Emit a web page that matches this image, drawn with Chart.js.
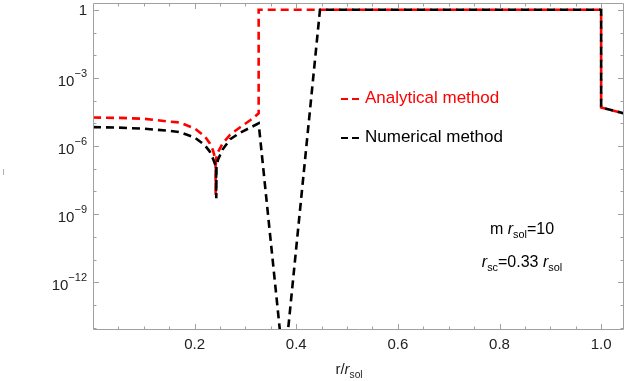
<!DOCTYPE html>
<html><head><meta charset="utf-8">
<script src="https://cdn.jsdelivr.net/npm/chart.js@4/dist/chart.umd.min.js"></script>
<style>html,body{margin:0;padding:0;background:#fff}#wrap{width:629px;height:381px}</style>
</head><body><div id="wrap"><canvas id="c" width="629" height="381"></canvas></div>
<script>
// ---- data ----
const analyticalX = [0, 0.05, 0.10, 0.15, 0.17, 0.20, 0.22, 0.23, 0.236, 0.2412, 0.2414, 0.2418, 0.245, 0.255, 0.27, 0.289, 0.31, 0.326, 0.326, 1.0, 1.0, 1.045];
const analyticalY = [1.8e-5, 1.74e-5, 1.6e-5, 1.2e-5, 1.1e-5, 6.0e-6, 2.7e-6, 1.3e-6, 6.6e-7, 2.5e-7, 7e-9, 2.5e-7, 5e-7, 1.3e-6, 3.2e-6, 6.6e-6, 1.4e-5, 2.75e-5, 1, 1, 5e-5, 2.75e-5];
const numericalX = [0, 0.05, 0.10, 0.15, 0.17, 0.20, 0.22, 0.23, 0.237, 0.2422, 0.2426, 0.2430, 0.246, 0.255, 0.27, 0.289, 0.31, 0.326, 0.3759, 0.4467, 1.0, 1.0, 1.045];
const numericalY = [6.8e-6, 6.5e-6, 5.8e-6, 4.7e-6, 4.1e-6, 2.4e-6, 1.1e-6, 5.6e-7, 2.5e-7, 1.2e-7, 5e-9, 1.2e-7, 2.5e-7, 7e-7, 2e-6, 3.8e-6, 6.6e-6, 1e-5, 1.3e-16, 1, 1, 5e-5, 2.75e-5];
const seriesLabels = ['Analytical method', 'Numerical method'];
const seriesColors = ['#ff0000', '#000000'];
const xTickValues = [0.2, 0.4, 0.6, 0.8, 1.0];
const xTickLabels = ['0.2', '0.4', '0.6', '0.8', '1.0'];
const yTickExponents = [0, -3, -6, -9, -12];
const xRange = [0, 1.045];
const yRange = [Math.pow(10, -14.1), Math.pow(10, 0.3)];

const FONT = '"Liberation Sans", Arial, sans-serif';
const toPts = (xs, ys) => xs.map((x, i) => ({x: x, y: ys[i]}));

function richWidth(ctx, segs, size) {
  let w = 0;
  for (const s of segs) {
    const fs = s.sub ? size * 0.68 : size;
    ctx.font = (s.it ? 'italic ' : '') + fs + 'px ' + FONT;
    w += ctx.measureText(s.t).width;
  }
  return w;
}
function drawRich(ctx, segs, x, y, size, color, align) {
  const w = richWidth(ctx, segs, size);
  let cx = align === 'center' ? x - w / 2 : x;
  ctx.fillStyle = color;
  ctx.textAlign = 'left';
  ctx.textBaseline = 'alphabetic';
  for (const s of segs) {
    const fs = s.sub ? size * 0.68 : size;
    ctx.font = (s.it ? 'italic ' : '') + fs + 'px ' + FONT;
    ctx.fillText(s.t, cx, s.sub ? y + size * 0.25 : y);
    cx += ctx.measureText(s.t).width;
  }
}

const framePlugin = {
  id: 'frame',
  afterDraw(chart) {
    const ctx = chart.ctx;
    const {left: L, right: R, top: T, bottom: B} = chart.chartArea;
    const xs = chart.scales.x, ys = chart.scales.y;
    ctx.save();
    // frame
    ctx.strokeStyle = '#a0a0a0';
    ctx.lineWidth = 1;
    ctx.beginPath();
    ctx.rect(Math.round(L) + 0.5, Math.round(T) + 0.5, Math.round(R - L) - 1, Math.round(B - T) - 1);
    ctx.stroke();
    // x ticks (inside, bottom and top)
    ctx.beginPath();
    for (let k = 1; k * 0.05 <= xRange[1]; k++) {
      const v = k * 0.05;
      const px = Math.round(xs.getPixelForValue(v)) + 0.5;
      const len = (k % 4 === 0) ? 6 : 3.5;
      ctx.moveTo(px, B); ctx.lineTo(px, B - len);
      ctx.moveTo(px, T); ctx.lineTo(px, T + len);
    }
    // y ticks (every decade)
    for (let e = -14; e <= 0; e++) {
      const py = Math.round(ys.getPixelForValue(Math.pow(10, e))) + 0.5;
      const len = (e % 3 === 0) ? 6 : 3.5;
      ctx.moveTo(L, py); ctx.lineTo(L + len, py);
      ctx.moveTo(R, py); ctx.lineTo(R - len, py);
    }
    ctx.stroke();
    // x tick labels
    ctx.fillStyle = '#222';
    ctx.font = '15px ' + FONT;
    ctx.textAlign = 'center';
    ctx.textBaseline = 'middle';
    xTickValues.forEach((v, i) => {
      ctx.fillText(xTickLabels[i], xs.getPixelForValue(v), B + 15);
    });
    // y tick labels
    yTickExponents.forEach(e => {
      const py = ys.getPixelForValue(Math.pow(10, e));
      const rx = L - 6;
      ctx.textBaseline = 'alphabetic';
      ctx.textAlign = 'right';
      if (e === 0) {
        ctx.font = '15px ' + FONT;
        ctx.fillText('1', rx, py + 5.5);
      } else {
        const sup = '\u2212' + Math.abs(e);
        ctx.font = '11px ' + FONT;
        const sw = ctx.measureText(sup).width;
        ctx.fillText(sup, rx, py - 1);
        ctx.font = '15px ' + FONT;
        ctx.fillText('10', rx - sw, py + 8);
      }
    });
    // x axis title
    drawRich(ctx, [{t: 'r/'}, {t: 'r', it: true}, {t: 'sol', sub: true}], 349, 374, 15, '#222', 'center');
    // tiny y axis mark
    ctx.fillStyle = '#b0b0b0';
    ctx.fillRect(3, 169, 1, 6);
    // legend
    const legY = [98, 137];
    seriesLabels.forEach((lab, i) => {
      ctx.strokeStyle = seriesColors[i];
      ctx.lineWidth = 2;
      ctx.beginPath();
      ctx.moveTo(341, legY[i] + 1); ctx.lineTo(348, legY[i] + 1);
      ctx.moveTo(352, legY[i] + 1); ctx.lineTo(359, legY[i] + 1);
      ctx.stroke();
      ctx.fillStyle = seriesColors[i];
      ctx.font = '17px ' + FONT;
      ctx.textAlign = 'left';
      ctx.textBaseline = 'middle';
      ctx.fillText(lab, 365, legY[i]);
    });
    // annotations
    drawRich(ctx, [{t: 'm '}, {t: 'r', it: true}, {t: 'sol', sub: true}, {t: '=10'}], 522, 234, 16, '#000', 'center');
    drawRich(ctx, [{t: 'r', it: true}, {t: 'sc', sub: true}, {t: '=0.33 '}, {t: 'r', it: true}, {t: 'sol', sub: true}], 522, 267, 16, '#000', 'center');
    ctx.restore();
  }
};

new Chart(document.getElementById('c'), {
  type: 'scatter',
  data: {
    datasets: [
      {label: seriesLabels[0], data: toPts(analyticalX, analyticalY), showLine: true, borderColor: seriesColors[0], backgroundColor: seriesColors[0], borderWidth: 2.6, borderDash: [8, 5], pointRadius: 0, tension: 0, fill: false, order: 1},
      {label: seriesLabels[1], data: toPts(numericalX, numericalY), showLine: true, borderColor: seriesColors[1], backgroundColor: seriesColors[1], borderWidth: 2.6, borderDash: [8, 5], pointRadius: 0, tension: 0, fill: false, order: 0}
    ]
  },
  options: {
    responsive: false,
    devicePixelRatio: 1,
    animation: false,
    layout: {padding: {left: 0, right: 5, top: 3, bottom: 0}},
    plugins: {legend: {display: false}, tooltip: {enabled: false}},
    scales: {
      x: {type: 'linear', min: xRange[0], max: xRange[1], grid: {display: false}, border: {display: false}, ticks: {display: false}, afterFit: s => { s.height = 51; }},
      y: {type: 'logarithmic', min: yRange[0], max: yRange[1], grid: {display: false}, border: {display: false}, ticks: {display: false}, afterFit: s => { s.width = 93; }}
    }
  },
  plugins: [framePlugin]
});
</script></body></html>
